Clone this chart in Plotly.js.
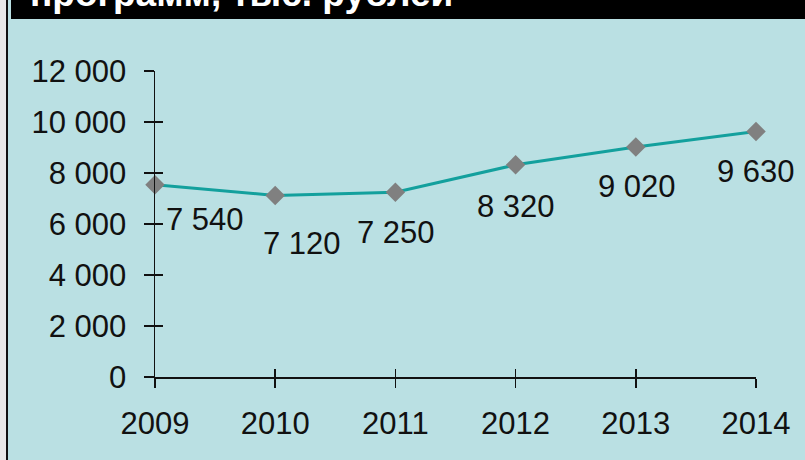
<!DOCTYPE html>
<html>
<head>
<meta charset="utf-8">
<script src="https://cdn.plot.ly/plotly-3.0.1.min.js"></script>
<style>
html,body{margin:0;padding:0;background:#bae0e3;}
#chart{width:805px;height:460px;}
</style>
</head>
<body>
<div id="chart"></div>
<script>
var years = [2009, 2010, 2011, 2012, 2013, 2014];
var values = [7540, 7120, 7250, 8320, 9020, 9630];
var yTicks = [0, 2000, 4000, 6000, 8000, 10000, 12000];
var titleText = 'программ, тыс. рублей';

// label offsets (px) for data labels
var labelDx = [50, 27, 1, 0, 1, 0];
var labelDy = [-35, -48, -40, -42, -40, -40];

function fmt(v) {
  return String(v).replace(/\B(?=(\d{3})+(?!\d))/g, ' ');
}

var L = 155, R = 49, T = 71, B = 83;
var W = 805 - L - R, H = 460 - T - B;
function px(x) { return (x - L) / W; }
function py(y) { return (460 - B - y) / H; }

var FONT = 'Liberation Sans, Arial, sans-serif';
var tealBg = '#bae0e3';

var annotations = years.map(function (yr, i) {
  return {
    x: yr, y: values[i], xref: 'x', yref: 'y',
    text: fmt(values[i]), showarrow: false,
    xshift: labelDx[i], yshift: labelDy[i],
    font: {family: FONT, size: 31, color: '#111'}
  };
});
annotations.push({
  x: px(28), y: py(-7), xref: 'paper', yref: 'paper',
  xanchor: 'left', yanchor: 'middle',
  text: '<b>' + titleText + '</b>', showarrow: false,
  font: {family: FONT, size: 37, color: '#ffffff'}
});

var shapes = [
  {type: 'rect', xref: 'paper', yref: 'paper', x0: px(11), x1: px(810), y0: py(19), y1: py(-10),
   fillcolor: '#000000', line: {width: 0}, layer: 'below'},
  {type: 'rect', xref: 'paper', yref: 'paper', x0: px(-5), x1: px(6), y0: py(470), y1: py(-10),
   fillcolor: '#e8e8e8', line: {width: 0}, layer: 'below'},
  {type: 'rect', xref: 'paper', yref: 'paper', x0: px(6), x1: px(8), y0: py(470), y1: py(-10),
   fillcolor: '#111111', line: {width: 0}, layer: 'below'}
];

var data = [
  {
    x: years, y: values, type: 'scatter', mode: 'lines+markers',
    line: {color: '#13a09d', width: 3},
    marker: {symbol: 'diamond', size: 15, color: '#808080'},
    cliponaxis: false, hoverinfo: 'skip', showlegend: false
  },
  {
    x: years, y: values, xaxis: 'x2', yaxis: 'y2', type: 'scatter', mode: 'none',
    hoverinfo: 'skip', showlegend: false
  }
];

var axisCommon = {
  showgrid: false, zeroline: false, showline: true,
  linecolor: '#111', linewidth: 1.5, tickcolor: '#111', tickwidth: 1.5,
  tickfont: {family: FONT, size: 31, color: '#111'}
};

var layout = {
  width: 805, height: 460,
  margin: {l: L, r: R, t: T, b: B, pad: 0},
  paper_bgcolor: tealBg, plot_bgcolor: tealBg,
  separators: ', ',
  showlegend: false,
  xaxis: Object.assign({}, axisCommon, {
    range: [2009, 2014], tickmode: 'array', tickvals: years,
    ticktext: years.map(String), ticks: 'outside', ticklen: 9,
    ticklabelstandoff: 9
  }),
  yaxis: Object.assign({}, axisCommon, {
    range: [0, 12000], tickmode: 'array', tickvals: yTicks,
    ticktext: yTicks.map(fmt), ticks: 'outside', ticklen: 10,
    ticklabelstandoff: 11
  }),
  xaxis2: {
    overlaying: 'x', anchor: 'y', range: [2009, 2014], tickmode: 'array', tickvals: years,
    ticks: 'inside', ticklen: 8, tickwidth: 1.5, tickcolor: '#111', showticklabels: false,
    showgrid: false, zeroline: false, showline: false
  },
  yaxis2: {
    overlaying: 'y', anchor: 'x', side: 'left', range: [0, 12000], tickmode: 'array', tickvals: yTicks,
    ticks: 'inside', ticklen: 8, tickwidth: 1.5, tickcolor: '#111', showticklabels: false,
    showgrid: false, zeroline: false, showline: false
  },
  shapes: shapes,
  annotations: annotations
};

Plotly.newPlot('chart', data, layout, {displayModeBar: false, staticPlot: true});
</script>
</body>
</html>
